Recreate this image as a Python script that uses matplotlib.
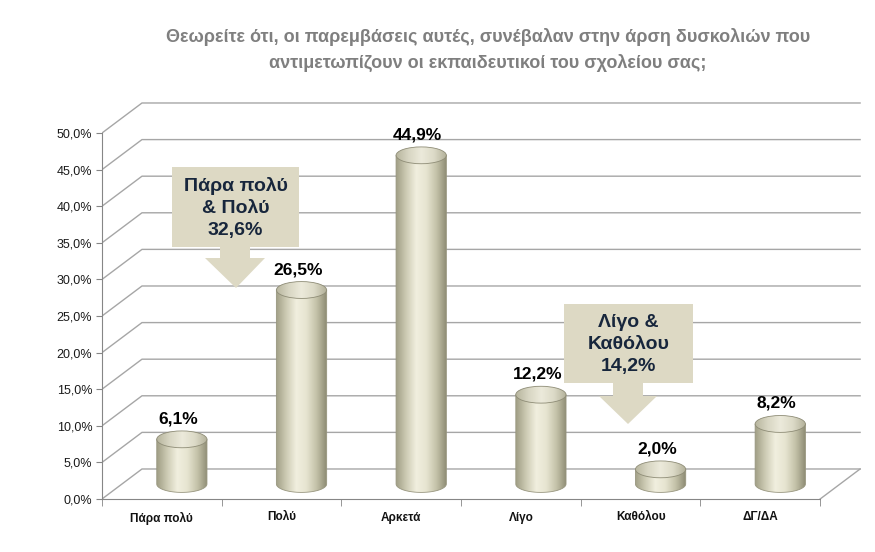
import numpy as np
import matplotlib
matplotlib.use('Agg')
import matplotlib.pyplot as plt
from matplotlib.patches import Ellipse, Polygon, PathPatch
from matplotlib.path import Path
from matplotlib.colors import LinearSegmentedColormap

# data
categories = ['Πάρα πολύ', 'Πολύ', 'Αρκετά', 'Λίγο', 'Καθόλου', 'ΔΓ/ΔΑ']
values = [6.1, 26.5, 44.9, 12.2, 2.0, 8.2]
yticks = [0, 5, 10, 15, 20, 25, 30, 35, 40, 45, 50]
title = ('Θεωρείτε ότι, οι παρεμβάσεις αυτές, συνέβαλαν στην άρση δυσκολιών που\n'
         'αντιμετωπίζουν οι εκπαιδευτικοί του σχολείου σας;')
callout_top = 'Πάρα πολύ\n& Πολύ\n32,6%'
callout_low = 'Λίγο &\nΚαθόλου\n14,2%'

plt.rcParams['font.family'] = ['Liberation Sans', 'DejaVu Sans']

W, H = 875, 552
fig = plt.figure(figsize=(W / 100, H / 100), dpi=100)
ax = fig.add_axes([102 / W, 53 / H, 766 / W, 402.6 / H])
ax.set_xlim(0, 6.4)
ax.set_ylim(0, 55)

n = len(categories)
dx, dy = 0.334, 4.1          # depth offset of the back wall
grid_c = '#A6A6A6'
axis_c = '#868686'

# perspective grid (side + back wall)
for t in yticks:
    ax.plot([0, dx, n + dx], [t, t + dy, t + dy], color=grid_c, lw=1, zorder=1)
ax.plot([n, n + dx], [0, dy], color=grid_c, lw=1, zorder=1)

# axes
for s in ['top', 'right']:
    ax.spines[s].set_visible(False)
ax.spines['left'].set_bounds(0, 50)
ax.spines['bottom'].set_bounds(0, n)
ax.spines['left'].set_color(axis_c)
ax.spines['bottom'].set_color(axis_c)
ax.set_yticks(yticks)
ax.set_yticklabels([('%.1f%%' % t).replace('.', ',') for t in yticks],
                   fontsize=9, color='#1A1A1A')
ax.tick_params(axis='y', length=4, color=axis_c, pad=3)
ax.set_xticks(np.arange(n) + 0.5)
ax.set_xticklabels(categories, fontsize=8.5, fontweight='bold', color='#111111')
ax.set_xticks(np.arange(n + 1), minor=True)
ax.tick_params(axis='x', which='major', length=0, pad=9)
ax.tick_params(axis='x', which='minor', length=5, color=axis_c)

# cylinders
body_cm = LinearSegmentedColormap.from_list(
    'body', ['#A09E85', '#CDCBB4', '#F1EFDF', '#E6E4D0', '#C3C1A8', '#8C8A72'])
top_cm = LinearSegmentedColormap.from_list(
    'top', ['#B7B59E', '#D8D6C3', '#ECEADB', '#DCDAC7', '#B1AF98'])
grad = np.linspace(0, 1, 256).reshape(1, -1)
bw, eh = 0.42, 2.3
base = dy / 2
for i, v in enumerate(values):
    cx = i + 0.5 + dx / 2
    x0, x1 = cx - bw / 2, cx + bw / 2
    top = base + v
    ang = np.linspace(np.pi, 2 * np.pi, 40)
    arc = np.column_stack([cx + bw / 2 * np.cos(ang), base + eh / 2 * np.sin(ang)])
    verts = np.vstack([[[x0, top]], arc, [[x1, top]], [[x0, top]]])
    codes = [Path.MOVETO] + [Path.LINETO] * (len(verts) - 2) + [Path.CLOSEPOLY]
    body = PathPatch(Path(verts, codes), facecolor='none', edgecolor='#98967F',
                     lw=0.6, zorder=3)
    ax.add_patch(body)
    im = ax.imshow(grad, cmap=body_cm, extent=[x0, x1, base - eh / 2, top],
                   aspect='auto', zorder=2.9, interpolation='bicubic')
    im.set_clip_path(body)
    cap = Ellipse((cx, top), bw, eh, facecolor='none', edgecolor='#8E8C76',
                  lw=0.6, zorder=4.1)
    ax.add_patch(cap)
    im2 = ax.imshow(grad, cmap=top_cm, extent=[x0, x1, top - eh / 2, top + eh / 2],
                    aspect='auto', zorder=4, interpolation='bicubic')
    im2.set_clip_path(cap)
    ax.text(cx - 0.03, top + 2.8, ('%.1f%%' % v).replace('.', ','), ha='center',
            va='center', fontsize=12.5, fontweight='bold', color='black', zorder=5)

ax.set_xlim(0, 6.4)
ax.set_ylim(0, 55)


# callouts (in pixel coordinates of the figure)
def fig_pt(x, y):
    return (x / W, 1 - y / H)


def callout(x0, x1, y0, y1, sx0, sx1, hy, hx0, hx1, tx, ty, text):
    pts = [(x0, y0), (x1, y0), (x1, y1), (sx1, y1), (sx1, hy), (hx1, hy),
           (tx, ty), (hx0, hy), (sx0, hy), (sx0, y1), (x0, y1)]
    poly = Polygon([fig_pt(*p) for p in pts], closed=True, transform=fig.transFigure,
                   facecolor='#DDD9C4', edgecolor='none', zorder=10)
    fig.patches.append(poly)
    fig.text(*fig_pt((x0 + x1) / 2, (y0 + y1) / 2 + 1), text, ha='center', va='center',
             fontsize=14, fontweight='bold', color='#17263C', linespacing=1.4,
             zorder=11)


callout(172, 299, 167, 247, 220, 250, 258, 205, 265, 236, 288, callout_top)
callout(564, 693, 304, 383, 613, 643, 396, 599, 657, 628, 424, callout_low)

fig.text(488 / W, 1 - 50 / H, title, ha='center', va='center', fontsize=13,
         fontweight='bold', color='#7F7F7F', linespacing=1.6)

fig.savefig('out.png', dpi=100)
